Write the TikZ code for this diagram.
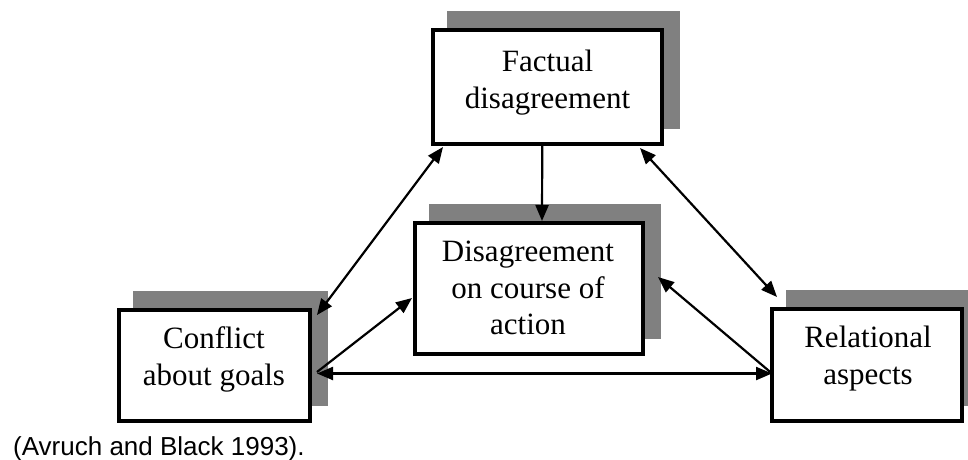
\documentclass[tikz,border=0pt]{standalone}
\usepackage{fontspec}
\setmainfont{Liberation Serif}
\newfontfamily\capfont{Liberation Sans}
\usetikzlibrary{arrows.meta,backgrounds}
\definecolor{shadowc}{HTML}{808080}
\tikzset{
  box/.style={draw=black, line width=4pt, fill=white, inner sep=0pt, outer sep=2pt},
  boxtext/.style={anchor=north, inner sep=0pt, align=center, font=\fontsize{31}{36.7}\selectfont},
  shade/.style={fill=shadowc},
  conn/.style={line width=2.2pt, draw=black},
  tip/.style={-{Triangle[length=16pt,width=13pt]}},
  both/.style={{Triangle[length=16pt,width=13pt]}-{Triangle[length=16pt,width=13pt]}}
}
\begin{document}
\begin{tikzpicture}[x=1pt,y=-1pt]
\useasboundingbox (0,0) rectangle (968,459);
% boxes
\node[box, minimum width=228.5pt, minimum height=114pt] (f) at (547.25,87) {};
\node[box, minimum width=191pt, minimum height=111pt] (c) at (214.5,365.5) {};
\node[box, minimum width=190pt, minimum height=112pt] (r) at (867,365) {};
\node[box, minimum width=228pt, minimum height=131pt] (d) at (529,288.5) {};
% texts
\node[boxtext] (ft) at (547.5,49.7) {Factual\\disagreement};
\node[boxtext] (ct) at (214,326.7) {Conflict\\about goals};
\node[boxtext] (rt) at (868,325.7) {Relational\\aspects};
\node[boxtext] (dt) at (528,240.7) {Disagreement\\on course of\\action};
% shadows
\begin{scope}[on background layer]
\foreach \n in {f,c,r,d}{
  \fill[shade] ([shift={(16pt,17pt)}]\n.south west) rectangle ([shift={(16pt,17pt)}]\n.north east);
}
\end{scope}
% connectors
\draw[conn,both] ([xshift=12pt,yshift=-1pt]f.south west) -- ([xshift=5pt,yshift=-7pt]c.north east);
\draw[conn,tip] ([xshift=-5pt]f.south) -- ([xshift=13pt]d.north);
\draw[conn,both] ([xshift=-23.5pt,yshift=-2pt]f.south east) -- ([xshift=7pt,yshift=10pt]r.north west);
\draw[conn,tip] ([xshift=5pt,yshift=-6.5pt]c.east) -- ([xshift=-1pt,yshift=-9.5pt]d.west);
\draw[conn,both] ([xshift=5pt,yshift=-8pt]c.east) -- ([xshift=2pt,yshift=-8.5pt]r.west);
\draw[conn,tip] ([xshift=2pt,yshift=-8.5pt]r.west) -- ([xshift=13pt,yshift=11.5pt]d.east);
% caption
\node[anchor=base west, inner sep=0pt, font=\capfont\fontsize{26}{30}\selectfont] (cap) at (13,455) {(Avruch and Black 1993).};
\end{tikzpicture}
\end{document}
